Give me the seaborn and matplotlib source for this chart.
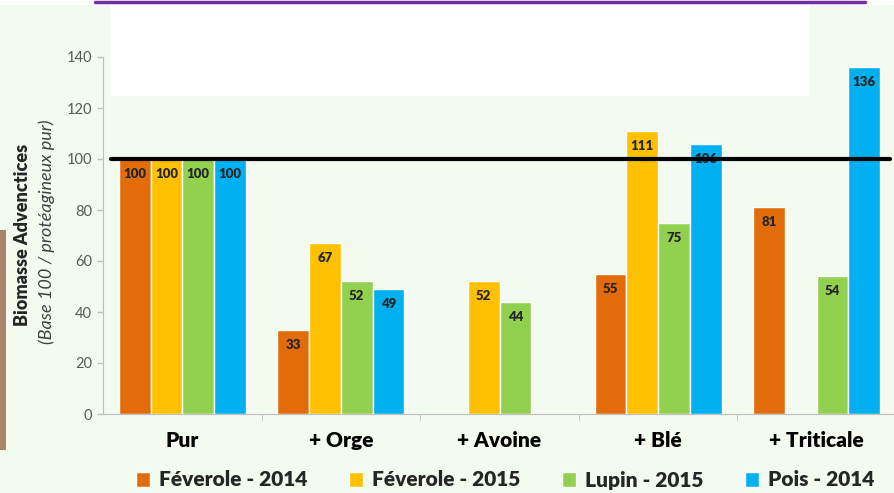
import numpy as np
import pandas as pd
import matplotlib
matplotlib.use("Agg")
import matplotlib.pyplot as plt
import seaborn as sns
from matplotlib.patches import Rectangle
from matplotlib.lines import Line2D

# data
categories = ["Pur", "+ Orge", "+ Avoine", "+ Blé", "+ Triticale"]
series = ["Féverole - 2014", "Féverole - 2015", "Lupin - 2015", "Pois - 2014"]
feverole_2014 = [100, 33, np.nan, 55, 81]
feverole_2015 = [100, 67, 52, 111, np.nan]
lupin_2015 = [100, 52, 44, 75, 54]
pois_2014 = [100, 49, np.nan, 106, 136]
colors = ["#E36C0A", "#FFC000", "#92D050", "#00B0F0"]
y_ticks = [0, 20, 40, 60, 80, 100, 120, 140]
reference_level = 100

rows = []
for name, values in zip(series, [feverole_2014, feverole_2015, lupin_2015, pois_2014]):
    for cat, val in zip(categories, values):
        rows.append({"culture": cat, "serie": name, "biomasse": val})
df = pd.DataFrame(rows).dropna()

sns.set_style("white")
plt.rcParams["font.family"] = ["Lato", "DejaVu Sans"]

bg = "#F3FAF0"
fig = plt.figure(figsize=(8.95, 4.93), dpi=100, facecolor=bg)

# slide decorations behind the chart
fig.patches.append(Rectangle((0, 1 - 5 / 493), 1, 5 / 493, transform=fig.transFigure,
                             facecolor="white", edgecolor="none", zorder=-2))
fig.patches.append(Rectangle((110 / 895, 1 - 96 / 493), 700 / 895, 91 / 493, transform=fig.transFigure,
                             facecolor="white", edgecolor="none", zorder=-1))
fig.patches.append(Rectangle((0, 1 - 450 / 493), 6 / 895, 220 / 493, transform=fig.transFigure,
                             facecolor="#A88468", edgecolor="none", zorder=-1))
fig.lines.append(Line2D([95 / 895, 865 / 895], [1 - 2 / 493, 1 - 2 / 493], transform=fig.transFigure,
                        color="#7030A0", lw=2.5))

ax = fig.add_axes([103 / 895, 79 / 493, 793 / 895, 357 / 493])
ax.set_facecolor("none")

sns.barplot(data=df, x="culture", y="biomasse", hue="serie", order=categories,
            hue_order=series, palette=colors, width=0.8, saturation=1,
            errorbar=None, ax=ax, legend=True)

for container in ax.containers:
    ax.bar_label(container, fmt="%d", padding=-15, fontsize=9.5, fontweight="heavy",
                 color="#262626")

ax.axhline(reference_level, xmin=0.01, xmax=0.992, color="black", lw=3, zorder=5)

ax.set_xlim(-0.5, len(categories) - 0.5)
ax.set_ylim(0, 140)
ax.set_yticks(y_ticks)
ax.tick_params(axis="y", labelsize=10.5, colors="#595959", length=4, width=1, left=True,
               color="#BFBFBF", pad=4)
ax.tick_params(axis="x", which="major", length=0, labelsize=15, pad=12)
ax.set_xticks(np.arange(len(categories)) + 0.5, minor=True)
ax.tick_params(axis="x", which="minor", length=5, color="#BFBFBF", bottom=True)
for lab in ax.get_xticklabels():
    lab.set_fontweight("heavy")
    lab.set_color("black")

sns.despine(ax=ax, top=True, right=True)
ax.spines["left"].set_color("#BFBFBF")
ax.spines["bottom"].set_color("#BFBFBF")
ax.set_xlabel("")
ax.set_ylabel("")

fig.text(23 / 895, 1 - 235 / 493, "Biomasse Advenctices", rotation=90, ha="center", va="center",
         fontsize=13, fontweight="heavy")
fig.text(47 / 895, 1 - 232 / 493, "(Base 100 / protéagineux pur)", rotation=90, ha="center",
         va="center", fontsize=13, style="italic", color="#404040")

handles, labels = ax.get_legend_handles_labels()
ax.legend_.remove()
fig.legend(handles, labels, loc="center", bbox_to_anchor=(505 / 895, 1 - 480 / 493), ncol=4,
           frameon=False, prop={"weight": "heavy", "size": 15}, handlelength=0.7,
           handleheight=0.7, handletextpad=0.4, columnspacing=2.0)

fig.savefig("out.png", dpi=100, facecolor=bg)
